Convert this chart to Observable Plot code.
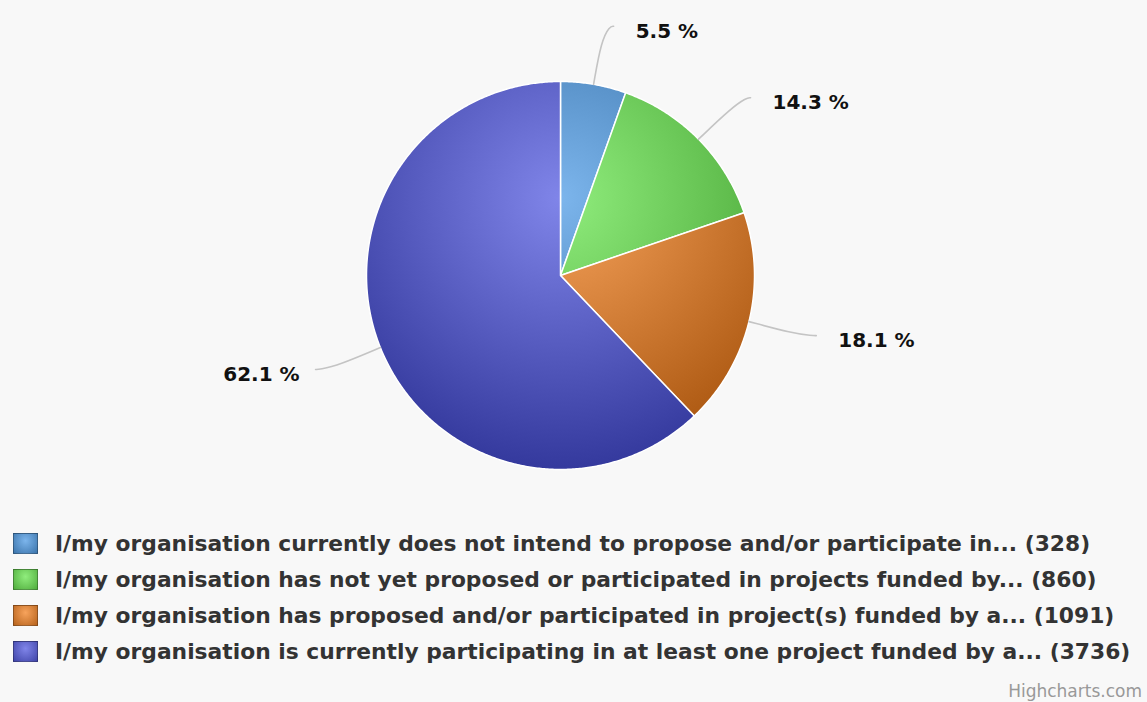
<!DOCTYPE html>
<html><head><meta charset="utf-8">
<script src="https://cdn.jsdelivr.net/npm/d3@7"></script>
<script src="https://cdn.jsdelivr.net/npm/@observablehq/plot@0.6"></script>
<style>
html,body{margin:0;padding:0;background:#f8f8f8;width:1147px;height:702px;overflow:hidden;font-family:"DejaVu Sans",sans-serif;}
#wrap{position:relative;width:1147px;height:702px;}
#chart{position:absolute;left:0;top:0;}
#chart svg{background:transparent;}
#legend{position:absolute;left:13px;top:525px;}
.row{display:flex;align-items:center;height:36px;}
.sw{width:25px;height:21px;box-sizing:border-box;border:1px solid rgba(0,0,0,0.3);margin-right:17px;flex:none;}
.lt{font-weight:bold;font-size:21.8px;letter-spacing:0px;color:#333;white-space:nowrap;}
#credit{position:absolute;right:5px;top:681px;font-size:17px;color:#999;}
</style></head>
<body><div id="wrap"><div id="chart"></div><div id="legend"></div><div id="credit">Highcharts.com</div></div>
<script>
const categories = [
  "I/my organisation currently does not intend to propose and/or participate in...",
  "I/my organisation has not yet proposed or participated in projects funded by...",
  "I/my organisation has proposed and/or participated in project(s) funded by a...",
  "I/my organisation is currently participating in at least one project funded by a..."
];
const counts = [328, 860, 1091, 3736];
const colors = ["#7cb5ec", "#90ed7d", "#f7a35c", "#8085e9"];

const W = 1147, H = 500;
const cx = 560, cy = 275, r = 194;
const labelCy = 280, labelR = 253;
const total = d3.sum(counts);
const darken = c => { const k = d3.rgb(c); return d3.rgb(k.r - 76.5, k.g - 76.5, k.b - 76.5).formatHex(); };
const polar = (rad, a, oy = cy) => [cx + rad * Math.sin(a), oy - rad * Math.cos(a)];

const arcs = d3.pie().sort(null)(counts);
const slices = arcs.map((a, i) => {
  const pts = [{x: cx, y: cy}];
  const n = Math.max(4, Math.ceil((a.endAngle - a.startAngle) / (Math.PI / 360)));
  for (let k = 0; k <= n; k++) {
    const ang = a.startAngle + (a.endAngle - a.startAngle) * k / n;
    const [x, y] = polar(r, ang);
    pts.push({x, y});
  }
  return pts;
});

const labels = [];
const connectors = [];
arcs.forEach((a, i) => {
  const mid = (a.startAngle + a.endAngle) / 2;
  const side = Math.sin(mid) >= 0 ? 1 : -1;
  const [lx, ly] = polar(labelR, mid, labelCy);
  const [ex, ey] = polar(r, mid);
  const [vx, vy] = polar(labelR - 14, mid, labelCy);
  const pct = (counts[i] / total * 100).toFixed(1) + " %";
  labels.push({x: lx + side * (side > 0 ? 32 : 26), y: ly, text: pct, side});
  connectors.push({k: i, x: ex, y: ey});
  connectors.push({k: i, x: vx, y: vy - 4});
  connectors.push({k: i, x: lx + side * 6, y: ly - 5});
  connectors.push({k: i, x: lx + side * 10, y: ly - 5});
});

const marks = [
  ...slices.map((pts, i) => Plot.line(pts, {x: "x", y: "y", curve: "linear-closed", fill: `url(#g${i})`, stroke: "#ffffff", strokeWidth: 1.5, strokeLinejoin: "round"})),
  Plot.line(connectors, {x: "x", y: "y", z: "k", curve: "basis", stroke: "#c4c4c4", strokeWidth: 1.6}),
  Plot.text(labels.filter(d => d.side > 0), {x: "x", y: "y", text: "text", textAnchor: "start", fontSize: 20, fontWeight: "bold", fill: "#111", fontFamily: "DejaVu Sans"}),
  Plot.text(labels.filter(d => d.side < 0), {x: "x", y: "y", text: "text", textAnchor: "end", fontSize: 20, fontWeight: "bold", fill: "#111", fontFamily: "DejaVu Sans"})
];

const chart = Plot.plot({
  width: W, height: H, margin: 0,
  x: {domain: [0, W], range: [0, W], axis: null},
  y: {domain: [0, H], range: [0, H], axis: null},
  style: {background: "transparent"},
  marks
});

const defs = d3.select(chart).insert("defs", ":first-child");
colors.forEach((c, i) => {
  const g = defs.append("radialGradient").attr("id", `g${i}`).attr("gradientUnits", "userSpaceOnUse")
    .attr("cx", cx).attr("cy", cy - r + 0.3 * 2 * r).attr("r", 0.7 * 2 * r);
  g.append("stop").attr("offset", 0).attr("stop-color", c);
  g.append("stop").attr("offset", 1).attr("stop-color", darken(c));
});
document.getElementById("chart").appendChild(chart);

const legend = d3.select("#legend");
categories.forEach((cat, i) => {
  const row = legend.append("div").attr("class", "row");
  row.append("div").attr("class", "sw")
    .style("background", `radial-gradient(ellipse at 50% 35%, ${colors[i]} 0%, ${darken(colors[i])} 120%)`);
  row.append("div").attr("class", "lt").text(`${cat} (${counts[i]})`);
});
</script>
</body></html>
